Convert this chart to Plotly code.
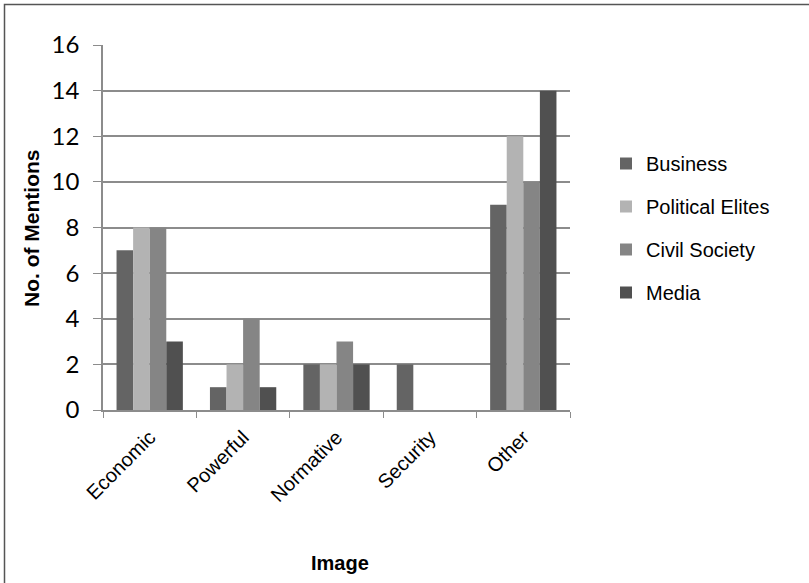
import plotly.graph_objects as go

categories = ["Economic", "Powerful", "Normative", "Security", "Other"]
business = [7, 1, 2, 2, 9]
political_elites = [8, 2, 2, 0, 12]
civil_society = [8, 4, 3, 0, 10]
media = [3, 1, 2, 0, 14]
y_ticks = [0, 2, 4, 6, 8, 10, 12, 14, 16]

series = [
    ("Business", business, "#646464"),
    ("Political Elites", political_elites, "#b3b3b3"),
    ("Civil Society", civil_society, "#858585"),
    ("Media", media, "#505050"),
]

fig = go.Figure()
for name, vals, col in series:
    fig.add_trace(go.Bar(x=categories, y=vals, name=name, legendgroup=name,
                         marker=dict(color=col, line=dict(width=0))))

L, R, T, B = 103, 570, 45, 410
W, H = 809, 583
pw, ph = R - L, B - T

fig.update_layout(
    width=W, height=H,
    margin=dict(l=L, r=W - R, t=T, b=H - B, autoexpand=False),
    paper_bgcolor="white", plot_bgcolor="white",
    barmode="group", bargap=0.29, bargroupgap=0,
    font=dict(family="Liberation Sans, Arial", color="#000"),
    legend=dict(x=(606 - L) / pw, y=1 - (144 - T) / ph, xanchor="left", yanchor="top",
                font=dict(size=20, family="Liberation Sans, Arial"),
                tracegroupgap=14, itemwidth=30),
    showlegend=True,
)
fig.update_yaxes(
    range=[0, 16], tickvals=y_ticks, showgrid=True, gridcolor="#8c8c8c", gridwidth=1.5,
    ticks="outside", ticklen=8, tickcolor="#8c8c8c", showline=True, linecolor="#8c8c8c", linewidth=1.5,
    tickfont=dict(size=24, family="Lato, Carlito, Calibri"), zeroline=False, automargin=False,
    ticklabelstandoff=9,
)
fig.update_xaxes(
    tickangle=-45, tickson="boundaries", ticks="outside", ticklen=6, tickcolor="#8c8c8c",
    showline=True, linecolor="#8c8c8c", linewidth=1.5, automargin=False,
    tickfont=dict(size=20), ticklabelstandoff=6,
)
fig.add_annotation(text="<b>No. of Mentions</b>", xref="paper", yref="paper",
                   x=(31 - L) / pw, y=1 - (229 - T) / ph, textangle=-90, showarrow=False,
                   font=dict(size=21), xanchor="center", yanchor="middle")
fig.add_annotation(text="<b>Image</b>", xref="paper", yref="paper",
                   x=(340 - L) / pw, y=1 - (563 - T) / ph, showarrow=False,
                   font=dict(size=20), xanchor="center", yanchor="middle")
fig.add_shape(type="rect", xref="paper", yref="paper",
              x0=(4.5 - L) / pw, x1=(830 - L) / pw,
              y0=-(600 - B) / ph, y1=1 + (T - 4.5) / ph,
              line=dict(color="#555", width=1.5), layer="below")
fig.write_html("out.html", config={"displayModeBar": False},
               post_script="document.body.style.margin='0';")
